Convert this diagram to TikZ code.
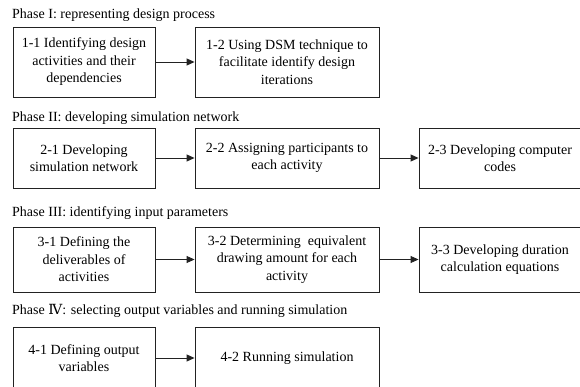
\documentclass[tikz,border=0pt]{standalone}
\usepackage{fontspec}
\setmainfont{Liberation Serif}
\newfontfamily\numfont{DejaVu Serif}
\usepackage{tikz}
\usetikzlibrary{positioning,arrows.meta}
\definecolor{linegray}{HTML}{222222}
\tikzset{
  % --- process step boxes ---
  stepbox/.style={draw=linegray, line width=0.9pt, align=center,
                  inner sep=2pt, font=\fontsize{14}{17.5}\selectfont},
  colA/.style={stepbox, minimum width=142pt},
  colB/.style={stepbox, minimum width=184pt},
  colC/.style={stepbox, minimum width=162pt},
  % --- phase headings ---
  phase/.style={anchor=west, inner sep=0pt, font=\fontsize{14}{16}\selectfont},
  % --- flow between steps ---
  flow/.style={-{Triangle[length=8pt,width=7pt]}, line width=0.9pt, draw=linegray},
}
\begin{document}
\begin{tikzpicture}[x=1pt,y=-1pt]
  \clip (0,0) rectangle (580,387);
  % Phase I
  \node[phase] (p1) at (12,15) {Phase I: representing design process};
  \node[colA, minimum height=70pt] (b11) at (84,62)
        {1-1 Identifying design\\activities and their\\dependencies};
  \node[colB, minimum height=70pt] (b12) at (287,62)
        {1-2 Using DSM technique to\\facilitate identify design\\iterations};
  % Phase II
  \node[phase] (p2) at (12,118) {Phase II: developing simulation network};
  \node[colA, minimum height=60pt] (b21) at (84,158)
        {2-1 Developing\\simulation network};
  \node[colB, minimum height=60pt] (b22) at (287,158)
        {2-2 Assigning participants to\\each activity};
  \node[colC, minimum height=60pt] (b23) at (500,158)
        {2-3 Developing computer\\codes};
  % Phase III
  \node[phase] (p3) at (12,213) {Phase III: identifying input parameters};
  \node[colA, minimum height=65pt] (b31) at (84,259.5)
        {3-1 Defining the\\deliverables of\\activities};
  \node[colB, minimum height=65pt] (b32) at (287,259.5)
        {3-2 Determining\ \ equivalent\\drawing amount for each\\activity};
  \node[colC, minimum height=65pt] (b33) at (500,259.5)
        {3-3 Developing duration\\calculation equations};
  % Phase IV
  \node[phase] (p4) at (12,311)
        {Phase {\numfont Ⅳ}: selecting output variables and running simulation};
  \node[colA, minimum height=62pt] (b41) at (84,358)
        {4-1 Defining output\\variables};
  \node[colB, minimum height=62pt] (b42) at (287,358)
        {4-2 Running simulation};
  \draw[flow] (b11) -- (b12);
  \draw[flow] (b21) -- (b22);
  \draw[flow] (b22) -- (b23);
  \draw[flow] (b31) -- (b32);
  \draw[flow] (b32) -- (b33);
  \draw[flow] (b41) -- (b42);
\end{tikzpicture}
\end{document}
